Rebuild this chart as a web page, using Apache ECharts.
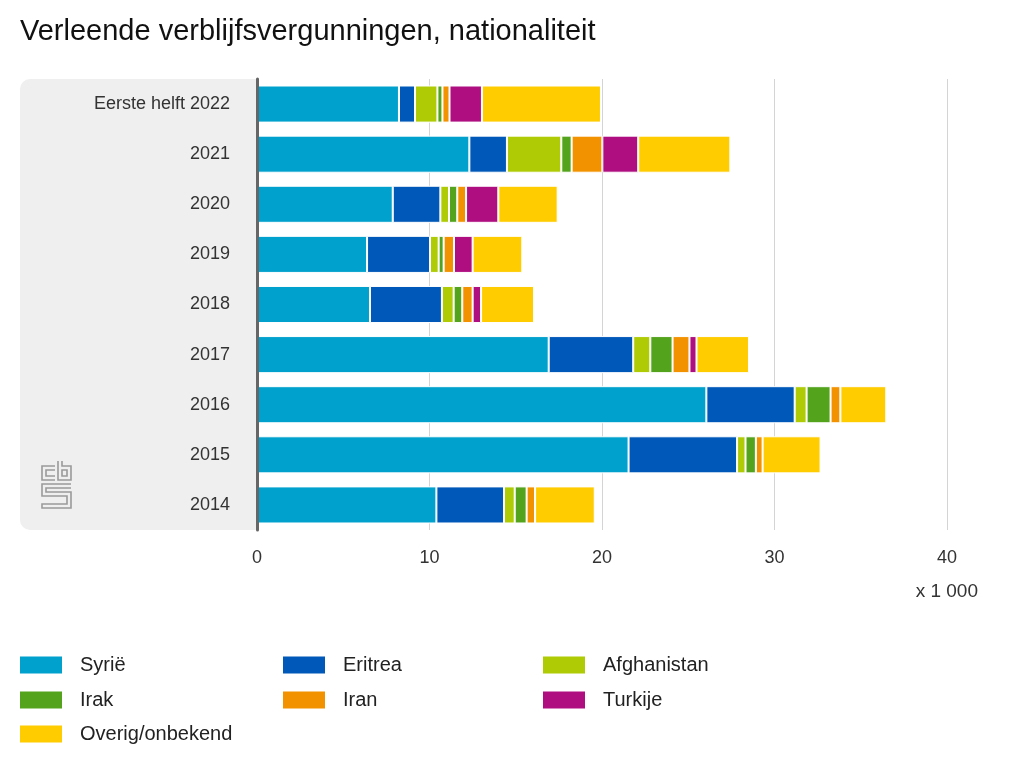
<!DOCTYPE html>
<html>
<head>
<meta charset="utf-8">
<script src="https://cdn.jsdelivr.net/npm/echarts@6/dist/echarts.min.js"></script>
<style>
html,body{margin:0;padding:0;background:#fff;}
#chart{width:1024px;height:768px;}
</style>
</head>
<body>
<div id="chart"></div>
<script>
// Data (x 1 000)
var categories = ['Eerste helft 2022','2021','2020','2019','2018','2017','2016','2015','2014'];
var seriesNames = ['Syrië','Eritrea','Afghanistan','Irak','Iran','Turkije','Overig/onbekend'];
var syrie       = [8.23, 12.31, 7.87, 6.38, 6.55, 16.91, 26.05, 21.54, 10.40];
var eritrea     = [0.93,  2.18, 2.76, 3.65, 4.17,  4.90,  5.12,  6.29,  3.92];
var afghanistan = [1.30,  3.15, 0.50, 0.50, 0.68,  0.99,  0.69,  0.49,  0.62];
var irak        = [0.29,  0.60, 0.48, 0.29, 0.50,  1.29,  1.39,  0.60,  0.69];
var iran        = [0.41,  1.78, 0.51, 0.60, 0.60,  0.98,  0.57,  0.39,  0.49];
var turkije     = [1.88,  2.08, 1.87, 1.08, 0.49,  0.41,  0.00,  0.00,  0.00];
var overig      = [6.90,  5.34, 3.44, 2.88, 3.07,  3.04,  2.66,  3.36,  3.46];
var xTicks = [0, 10, 20, 30, 40];

var values = [syrie, eritrea, afghanistan, irak, iran, turkije, overig];
var colors = ['#00a1cd','#0058b8','#afcb05','#53a31d','#f39200','#af0e80','#ffcc00'];
var FONT = 'Liberation Sans, Arial, sans-serif';

var chart = echarts.init(document.getElementById('chart'), null, {renderer:'canvas'});

var legendPos = [
  {left:20, top:655}, {left:283, top:655}, {left:543, top:655},
  {left:20, top:690}, {left:283, top:690}, {left:543, top:690},
  {left:20, top:724}
];
var legends = seriesNames.map(function(n, i){
  return {
    data:[n], left:legendPos[i].left, top:legendPos[i].top, padding:0,
    itemWidth:42, itemHeight:17, icon:'rect', selectedMode:false,
    itemStyle:{borderWidth:0},
    textStyle:{fontSize:20, color:'#222', fontFamily:FONT, padding:[0,0,0,13]}
  };
});

var series = seriesNames.map(function(n, i){
  return {
    name:n, type:'bar', stack:'total', barWidth:'74%',
    data: values[i],
    itemStyle:{color:colors[i], borderColor:'#ffffff', borderWidth:1},
    emphasis:{disabled:true}
  };
});

var logoStyle = {stroke:'#9a9a9a', lineWidth:1.6, fill:null};
var option = {
  animation:false,
  textStyle:{fontFamily:FONT},
  title:{
    text:'Verleende verblijfsvergunningen, nationaliteit',
    left:20, top:17, padding:0,
    textStyle:{fontSize:29, fontWeight:'normal', color:'#111', fontFamily:FONT}
  },
  legend: legends,
  grid:{left:257, right:77, top:79, bottom:238, containLabel:false},
  xAxis:{
    type:'value', min:xTicks[0], max:xTicks[xTicks.length-1], interval:10,
    axisLine:{show:false}, axisTick:{show:false},
    axisLabel:{fontSize:18, color:'#333', margin:19},
    splitLine:{show:true, lineStyle:{color:'#d4d4d4', width:1}}
  },
  yAxis:{
    type:'category', inverse:true, data:categories, z:10,
    axisLine:{show:true, lineStyle:{color:'#666', width:3}},
    axisTick:{show:false},
    axisLabel:{fontSize:18, color:'#333', margin:27}
  },
  graphic:[
    {type:'rect', z:-10, shape:{x:20, y:79, width:237, height:451, r:[10,0,0,10]}, style:{fill:'#efefef'}},
    {type:'text', right:46, top:582, style:{text:'x 1 000', fontSize:19, fill:'#333', fontFamily:FONT}},
    {type:'polyline', shape:{points:[[55,466],[42,466],[42,480],[55,480]]}, style:logoStyle},
    {type:'polyline', shape:{points:[[55,470],[46,470],[46,476],[55,476]]}, style:logoStyle},
    {type:'polyline', shape:{points:[[58,461],[58,480],[71,480],[71,466],[62,466],[62,461]]}, style:logoStyle},
    {type:'rect', shape:{x:62, y:470, width:5, height:6}, style:logoStyle},
    {type:'polyline', shape:{points:[[71,484],[42,484],[42,496],[67,496],[67,504],[42,504],[42,508],[71,508],[71,492],[46,492],[46,488],[71,488]]}, style:logoStyle}
  ],
  series: series
};
chart.setOption(option);
</script>
</body>
</html>
